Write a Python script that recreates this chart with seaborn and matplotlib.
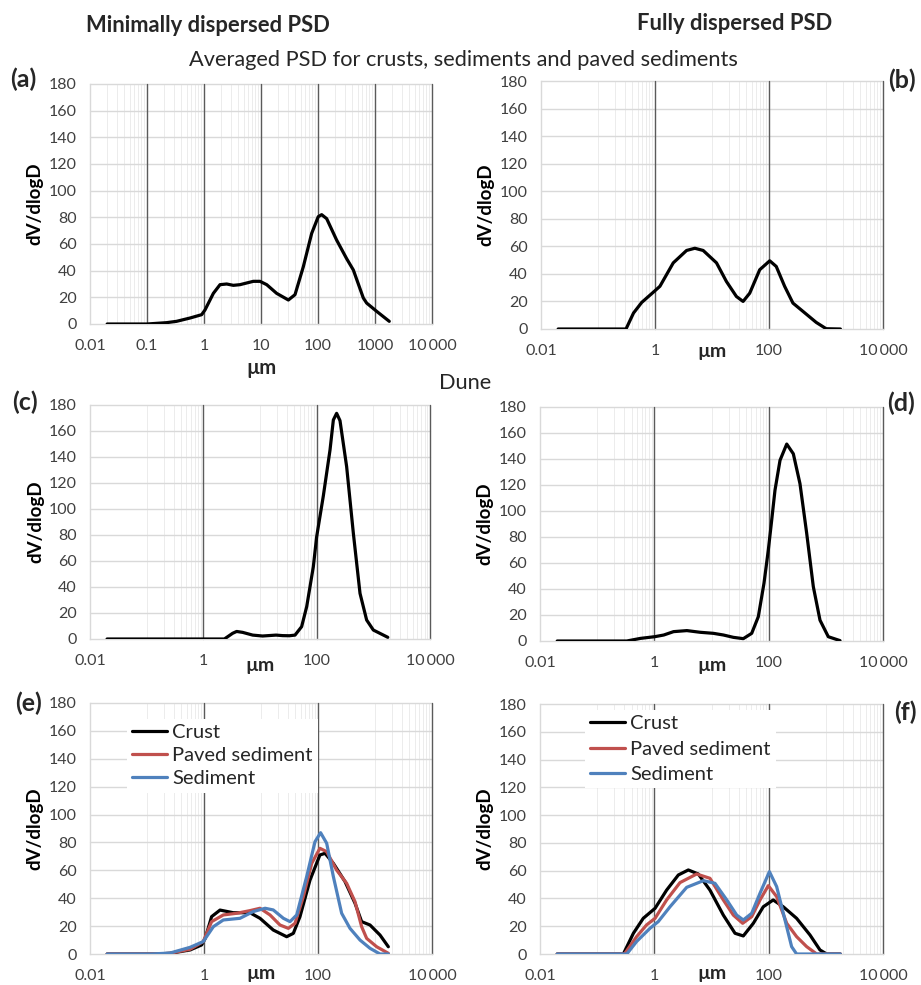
import matplotlib
matplotlib.use("Agg")
import matplotlib.pyplot as plt
import matplotlib.ticker as mticker
import seaborn as sns
import pandas as pd

# ---- data (diameter in um, dV/dlogD) ----
a_um = [0.02, 0.1, 0.22, 0.33, 0.57, 0.91, 1.04, 1.46, 1.91, 2.5, 3.27, 4.28, 7.33, 9.6, 12.6,
        18.8, 30.2, 39.5, 55.3, 77.5, 101, 116, 142, 212, 318, 417, 624, 714, 1070, 1780]
a_val = [0, 0, 1, 2, 4.5, 7, 10.5, 23, 29.5, 30, 29, 29.5, 32, 32, 29.5,
         23, 18, 22, 43, 68, 80.5, 82, 79, 63, 49, 40.5, 19.5, 15.7, 9.5, 2]

b_um = [0.02, 0.31, 0.42, 0.585, 0.97, 1.22, 2.09, 3.58, 5.0, 7.0, 12.0, 17.9, 26.8, 35.1,
        45.9, 68.7, 103, 134, 188, 263, 394, 673, 1007, 1790]
b_val = [0, 0, 11.6, 19.3, 27.3, 31, 48, 57, 58.6, 57, 48, 34.5, 23.6, 20,
         26, 43, 49.5, 45.4, 31, 18.8, 12.8, 4.8, 0.2, 0]

c_um = [0.02, 2.35, 3.29, 3.87, 4.94, 7.43, 11.1, 19.2, 25.1, 33, 41.5, 54.3, 66.7, 87.3,
        100, 131, 172, 197, 225, 258, 338, 444, 582, 762, 1000, 1800]
c_val = [0, 0, 4.4, 5.8, 5.1, 3, 2.3, 3, 2.6, 2.5, 3, 9.5, 24.9, 55.6,
         78.7, 110, 145.4, 168.5, 173.6, 168, 132.6, 81.3, 35.1, 14.6, 6.9, 1.3]

d_um = [0.02, 0.33, 0.57, 1.01, 1.46, 2.17, 3.71, 6.34, 10.8, 16.2, 24.2, 36, 50.5, 65.9,
        82.8, 98.6, 113, 129, 158, 207, 270, 353, 462, 604, 791, 1104, 1770]
d_val = [0, 0, 2, 3.3, 4.6, 7.2, 8, 6.7, 5.9, 4.6, 2.8, 1.8, 5.9, 18.7,
         44.4, 70, 93, 116, 139, 151.5, 144, 121, 83, 41.8, 16, 3.3, 0.3]

e_crust_um = [0.02, 0.15, 0.254, 0.57, 0.91, 1.05, 1.36, 1.91, 3.27, 6.4, 9.6, 16.4, 28.2,
              36.9, 48.3, 72.4, 108, 133, 186, 298, 446, 583, 817, 1224, 1714]
e_crust = [0, 0, 0.5, 2.9, 6.5, 11.2, 26.8, 31.5, 29.6, 29.6, 25.6, 17.2, 12.4,
           14.8, 26.8, 53, 71, 72.2, 65, 51.9, 36.4, 23.2, 20.8, 13.6, 5.2]
e_paved_um = [0.02, 0.15, 0.254, 0.57, 0.97, 1.36, 2.18, 3.74, 6.4, 9.6, 14.4, 21.5, 30.2,
              39.5, 55.3, 77.5, 108, 142, 212, 318, 446, 583, 714, 1070, 1714]
e_paved = [0, 0, 0.5, 3.4, 8.9, 23.2, 28, 29.2, 31.1, 32.8, 28, 20.8, 18.4,
           22, 41.1, 65, 75.8, 73.4, 60.2, 50.7, 37.5, 19.6, 11.2, 5.2, 0.5]
e_sed_um = [0.02, 0.12, 0.254, 0.57, 0.97, 1.46, 2.18, 4.28, 7.3, 11.8, 16.4, 24.7, 32.3,
            42.3, 63.3, 88.5, 111, 142, 186, 260, 364, 546, 817, 1224, 1714]
e_sed = [0, 0, 0.7, 4.8, 8.9, 19.6, 24.4, 25.6, 30.4, 32.8, 31.6, 25.6, 23.2,
         28, 55.5, 80.5, 87, 79.4, 55.5, 29.2, 18.4, 10, 4.1, 0, 0]

f_crust_um = [0.02, 0.287, 0.43, 0.64, 1.03, 1.64, 2.63, 3.93, 5.87, 9.4, 16.1, 25.8, 36,
              53.9, 80.5, 120, 180, 308, 528, 790, 1035, 1790]
f_crust = [0, 0, 14.9, 25.7, 32.9, 46, 56.9, 60.5, 57.6, 46, 28, 14.9, 13,
           22.1, 34, 38.9, 34, 25.7, 13.7, 2.9, 0, 0]
f_paved_um = [0.02, 0.3, 0.49, 0.73, 1.03, 1.64, 2.81, 5.5, 9.4, 16.1, 24.1, 35.1, 50.5,
              70.5, 98.6, 138, 207, 308, 462, 692, 1790]
f_paved = [0, 0, 12.5, 20.9, 25.7, 38.9, 51.4, 57.6, 54.5, 38.9, 28, 22.1, 26.9,
           38.9, 49.2, 41.3, 22.1, 12.5, 5.3, 0, 0]
f_sed_um = [0.02, 0.33, 0.49, 0.84, 1.17, 1.88, 3.68, 7.2, 11.5, 18.5, 27.6, 36, 50.5,
            70.5, 103, 138, 193, 252, 308, 1790]
f_sed = [0, 0, 9, 18.5, 23.3, 34, 48, 52.8, 50.9, 38.9, 28, 24.5, 29.3,
         43.7, 59.3, 48.5, 24.5, 5.3, 0, 0]

soil_types = ['Crust', 'Paved sediment', 'Sediment']
soil_colors = {'Crust': 'black', 'Paved sediment': '#C0504D', 'Sediment': '#4F81BD'}

ticks_a = [0.01, 0.1, 1, 10, 100, 1000, 10000]
labels_a = ['0.01', '0.1', '1', '10', '100', '1000', '10\u2009000']
ticks_b = [0.01, 1, 100, 10000]
labels_b = ['0.01', '1', '100', '10\u2009000']

sns.set_theme(style="white")
plt.rcParams['font.family'] = ['Lato', 'DejaVu Sans']

W, H = 921, 985
fig = plt.figure(figsize=(W / 100, H / 100), dpi=100)


def add_ax(l, t, r, b):
    return fig.add_axes([l / W, 1 - b / H, (r - l) / W, (b - t) / H])


def style(ax, ticks, labels, minor, dark):
    ax.set_xscale('log')
    ax.set_xlim(0.01, 10000)
    ax.set_ylim(0, 180)
    ax.set_yticks(range(0, 181, 20))
    ax.xaxis.set_major_locator(mticker.FixedLocator(ticks))
    ax.xaxis.set_major_formatter(mticker.FixedFormatter(labels))
    ax.xaxis.set_minor_locator(mticker.NullLocator())
    for m in minor:
        ax.axvline(m, color='#ececec', lw=0.7, zorder=0.3)
    for yy in range(20, 181, 20):
        ax.axhline(yy, color='#d9d9d9', lw=1, zorder=0.4, clip_on=False)
    for d in dark:
        ax.axvline(d, color='#5a5a5a', lw=1, zorder=0.5, clip_on=False)
    ax.tick_params(length=0, labelsize=11.5, labelcolor='#404040')
    ax.tick_params(axis='x', pad=11)
    ax.tick_params(axis='y', pad=9.5)
    for s in ['top', 'right']:
        ax.spines[s].set_visible(False)
    for s in ['left', 'bottom']:
        ax.spines[s].set_color('#d9d9d9')
        ax.spines[s].set_linewidth(1)
    ax.set_xlabel('')
    ax.set_ylabel('dV/dlogD', fontsize=13.5, fontweight='bold', color='black')
    ax.yaxis.set_label_coords(-0.135, 0.5)


minor_a = [k * 10.0 ** e for e in range(-2, 4) for k in range(2, 10)]
minor_b = [k * 10.0 ** e for e in (-2, 0, 2) for k in range(10, 100, 10)]


def single(ax, um, val):
    df = pd.DataFrame({'um': um, 'val': val})
    sns.lineplot(data=df, x='um', y='val', color='black', lw=2.3, sort=False, ax=ax, zorder=3)


def triple(ax, series, legend_xy, spacing):
    frames = []
    for name, (um, val) in zip(soil_types, series):
        frames.append(pd.DataFrame({'um': um, 'val': val, 'type': name}))
    df = pd.concat(frames, ignore_index=True)
    sns.lineplot(data=df, x='um', y='val', hue='type', hue_order=soil_types,
                 palette=soil_colors, lw=2.3, sort=False, ax=ax, zorder=3)
    handles, labels = ax.get_legend_handles_labels()
    ax.legend(handles, labels, loc='upper left', bbox_to_anchor=legend_xy, frameon=True,
              facecolor='white', edgecolor='none', framealpha=1, fancybox=False,
              fontsize=14.5, handlelength=1.75, handletextpad=0.25, labelspacing=spacing,
              borderpad=0.25, borderaxespad=0)


axa = add_ax(90, 84, 432, 324)
axb = add_ax(541, 81, 883, 329)
axc = add_ax(90, 405, 430, 639)
axd = add_ax(540, 407, 883, 641)
axe = add_ax(90, 703, 432, 954)
axf = add_ax(540, 704, 883, 954)

single(axa, a_um, a_val)
single(axb, b_um, b_val)
single(axc, c_um, c_val)
single(axd, d_um, d_val)
triple(axe, [(e_crust_um, e_crust), (e_paved_um, e_paved), (e_sed_um, e_sed)],
       (0.108, 0.936), 0.3)
triple(axf, [(f_crust_um, f_crust), (f_paved_um, f_paved), (f_sed_um, f_sed)],
       (0.131, 0.976), 0.42)

style(axa, ticks_a, labels_a, minor_a, [0.1, 1, 10, 100, 1000, 10000])
for ax in (axb, axc, axd, axe, axf):
    style(ax, ticks_b, labels_b, minor_b, [1, 100, 10000])

# x-axis titles
axa.annotate('\u00b5m', xy=(10, 0), xycoords=('data', 'axes fraction'), xytext=(0, -44),
             textcoords='offset pixels', ha='center', va='center', fontsize=14.5,
             fontweight='bold')
for ax, off in ((axb, -22), (axc, -26), (axd, -25), (axe, -20), (axf, -20)):
    ax.annotate('\u00b5m', xy=(10, 0), xycoords=('data', 'axes fraction'), xytext=(0, off),
                textcoords='offset pixels', ha='center', va='center', fontsize=14,
                fontweight='bold')

# headings
fig.text(208 / W, 1 - 25 / H, 'Minimally dispersed PSD', ha='center', va='center',
         fontsize=15.8, fontweight='bold')
fig.text(735 / W, 1 - 23 / H, 'Fully dispersed PSD', ha='center', va='center',
         fontsize=15.8, fontweight='bold')
fig.text(463 / W, 1 - 60 / H, 'Averaged PSD for crusts, sediments and paved sediments',
         ha='center', va='center', fontsize=15.7)
fig.text(465 / W, 1 - 383 / H, 'Dune', ha='center', va='center', fontsize=15.7)

# panel letters
for lbl, x, y in (('(a)', 23, 79), ('(b)', 902, 80), ('(c)', 25, 402), ('(d)', 901, 403),
                  ('(e)', 28, 703), ('(f)', 905, 712)):
    fig.text(x / W, 1 - y / H, lbl, ha='center', va='center', fontsize=18, fontweight='bold')

fig.savefig('out.png', dpi=100)
